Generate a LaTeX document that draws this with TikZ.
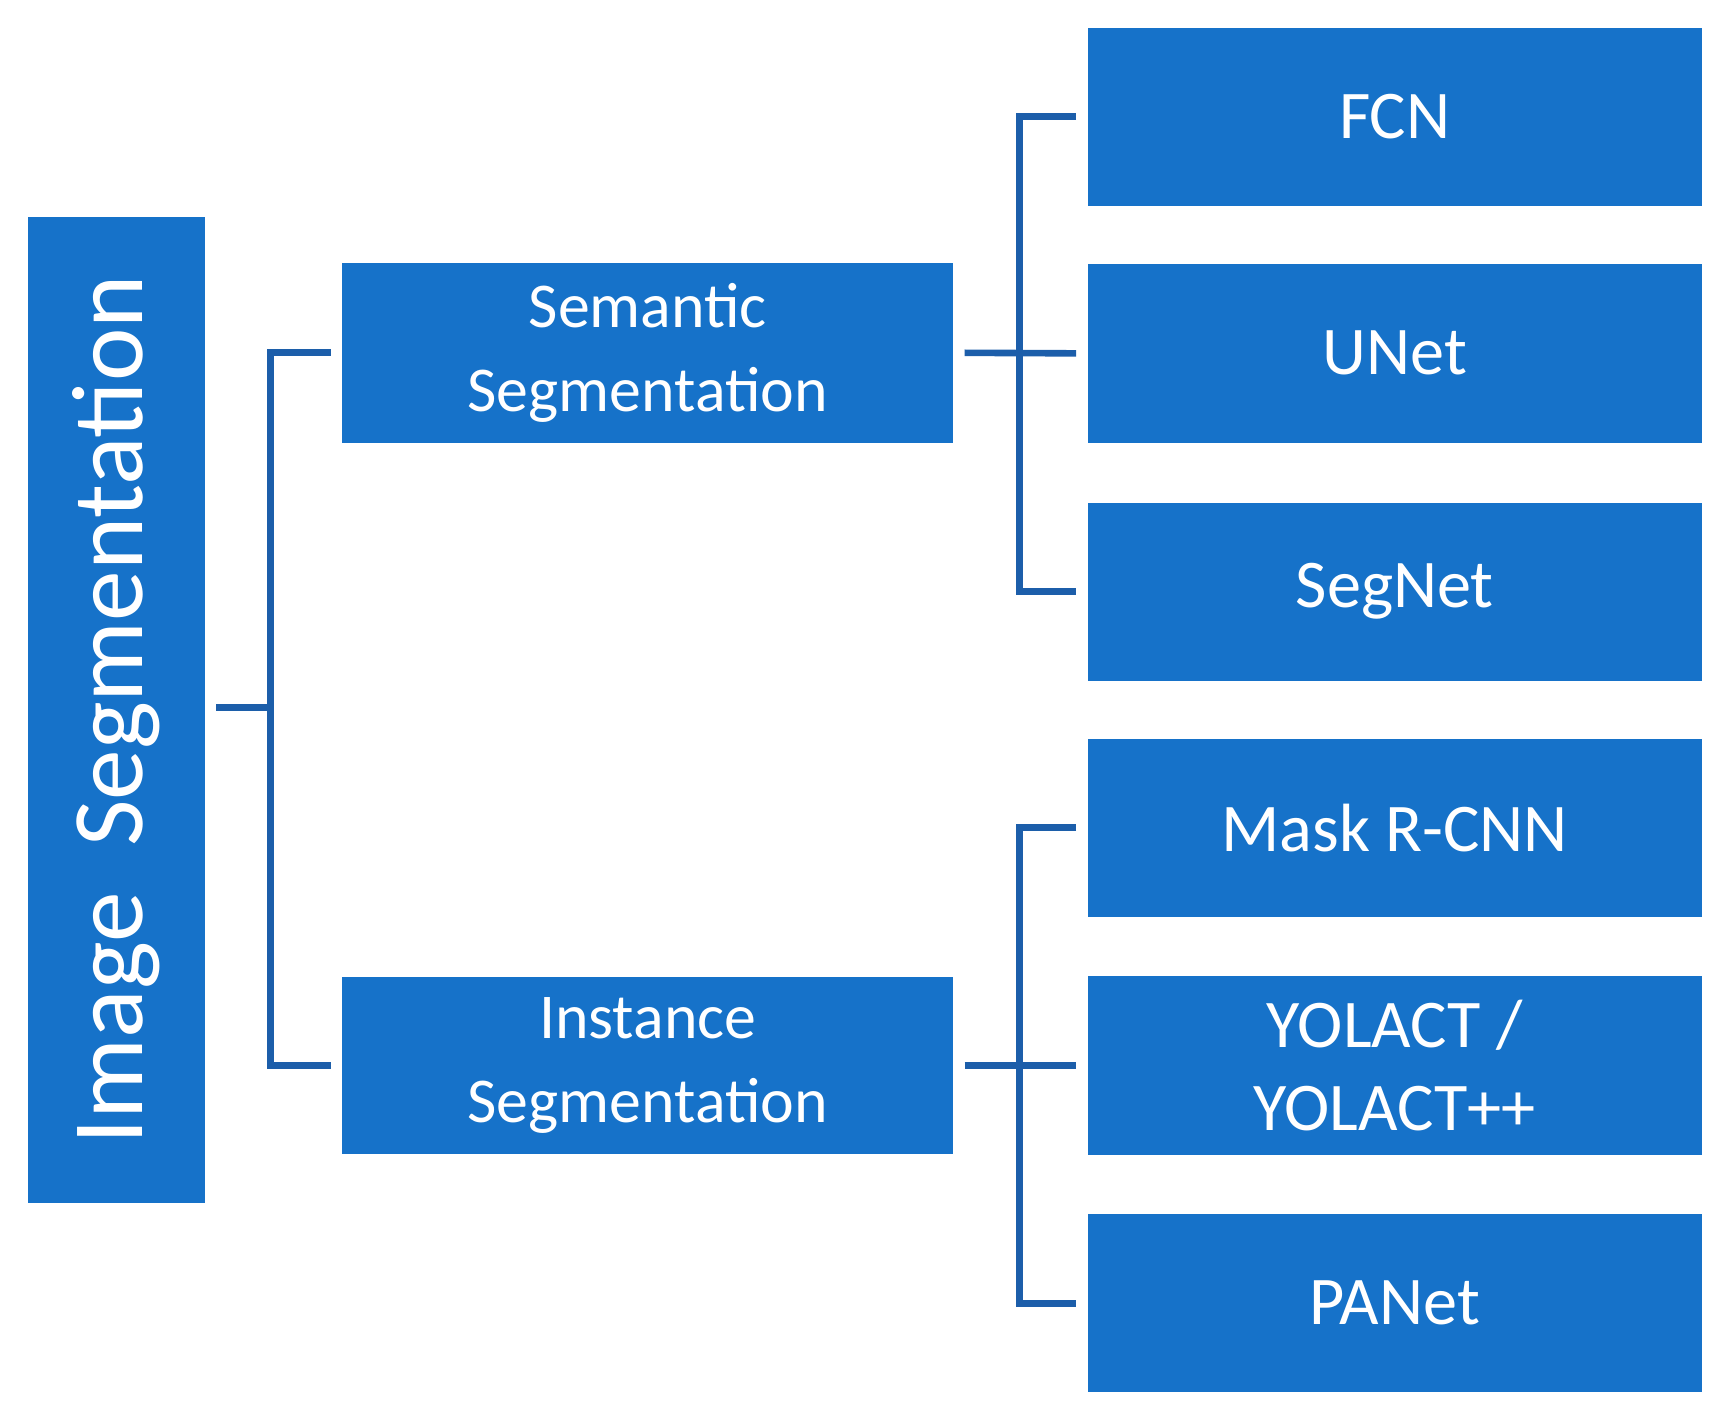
\documentclass[tikz,border=0pt]{standalone}
\usepackage{fontspec}
\setmainfont{Carlito}
\definecolor{boxc}{HTML}{1672C9}
\definecolor{linec}{HTML}{1C5EAA}
\begin{document}
\begin{tikzpicture}[x=0.5pt,y=-0.5pt,
  box/.style={fill=boxc,draw=none,text=white,align=center,inner sep=0},
  ln/.style={draw=linec,line width=3pt}]
\useasboundingbox (0,0) rectangle (1568,1290);
\node[box,minimum width=80.5pt,minimum height=448pt] (img) at (105.5,645) {};
\node[text=white,rotate=90,font=\fontsize{46}{50}\selectfont] at (105.5,645) {Image\ \ Segmentation};
\node[box,minimum width=277.5pt,minimum height=81.5pt,font=\fontsize{29}{38}\selectfont] (sem) at (588.5,320.5) {Semantic\\Segmentation};
\node[box,minimum width=277.5pt,minimum height=80pt,font=\fontsize{29}{38}\selectfont] (ins) at (588.5,968) {Instance\\Segmentation};
\tikzset{m/.style={box,minimum width=279pt,minimum height=81pt,font=\fontsize{31}{38}\selectfont}}
\node[m] (fcn) at (1267,106) {FCN};
\node[m] (unet) at (1267,321) {UNet};
\node[m] (seg) at (1267,537.5) {SegNet};
\node[m] (mask) at (1267,752) {Mask R-CNN};
\node[m] (yol) at (1267,968) {YOLACT /\\YOLACT++};
\node[m] (pan) at (1267,1184) {PANet};
\coordinate (j0) at (246,643);
\draw[ln] ([xshift=5pt]img.east|-j0) -- (j0);
\draw[ln] ([xshift=-5pt]sem.west) -| (j0) |- ([xshift=-5pt]ins.west);
\draw[ln] ([xshift=5pt]sem.east) -- ([xshift=-5pt]unet.west);
\draw[ln] ([xshift=-5pt]fcn.west) -| (926,320) |- ([xshift=-5pt]seg.west);
\draw[ln] ([xshift=5pt]ins.east) -- ([xshift=-5pt]yol.west);
\draw[ln] ([xshift=-5pt]mask.west) -| (926,968) |- ([xshift=-5pt]pan.west);
\end{tikzpicture}
\end{document}
